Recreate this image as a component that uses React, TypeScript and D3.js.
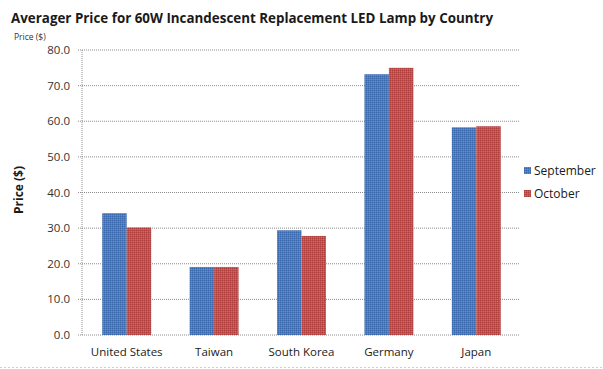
import React from "react";
import * as d3 from "d3";

const categories = ["United States", "Taiwan", "South Korea", "Germany", "Japan"];
const september = [34.2, 19.1, 29.4, 73.2, 58.3];
const october = [30.2, 19.1, 27.8, 75.0, 58.6];
const seriesNames = ["September", "October"];
const yTicks = [0, 10, 20, 30, 40, 50, 60, 70, 80];

const W = 603;
const H = 369;
const left = 82;
const right = 520;
const top = 50;
const bottom = 335;
const font = "'Open Sans', 'Noto Sans', sans-serif";

export default function App() {
  const x0 = d3.scaleBand<string>().domain(categories).range([left + 1, right]).paddingInner(0.44).paddingOuter(0.22);
  const x1 = d3.scaleBand<string>().domain(seriesNames).range([0, x0.bandwidth()]);
  const y = d3.scaleLinear().domain([0, 80]).range([bottom, top]);
  const values = [september, october];
  const fills = ["url(#pBlue)", "url(#pRed)"];
  return (
    <svg width={W} height={H} style={{ position: "absolute", left: 0, top: 0, background: "#fff" }}>
      <defs>
        <pattern id="pBlue" width="2" height="2" patternUnits="userSpaceOnUse">
          <rect width="2" height="2" fill="#4a7cc0" />
          <rect width="1" height="1" fill="#3a68ad" />
          <rect x="1" y="1" width="1" height="1" fill="#5d8fd2" />
        </pattern>
        <pattern id="pRed" width="2" height="2" patternUnits="userSpaceOnUse">
          <rect width="2" height="2" fill="#c44f4d" />
          <rect width="1" height="1" fill="#b03f3e" />
          <rect x="1" y="1" width="1" height="1" fill="#d86462" />
        </pattern>
      </defs>
      <text x={11} y={23} fontFamily={font} fontWeight="bold" fontSize={15} fill="#1a1a1a" textLength={482} lengthAdjust="spacingAndGlyphs">
        Averager Price for 60W Incandescent Replacement LED Lamp by Country
      </text>
      <text x={14} y={40} fontFamily={font} fontSize={8.5} fill="#333">Price ($)</text>
      {yTicks.map((t) => (
        <g key={t}>
          <line x1={left - 4} x2={right} y1={y(t)} y2={y(t)} stroke="#8c8c8c" strokeWidth={1} strokeDasharray="1,1" />
          <text x={70} y={y(t) + 4} textAnchor="end" fontFamily={font} fontSize={11.5} fill="#333">
            {t.toFixed(1)}
          </text>
        </g>
      ))}
      <line x1={left} x2={left} y1={top} y2={bottom} stroke="#8c8c8c" strokeDasharray="1,1" />
      <text transform={`translate(23,190) rotate(-90)`} textAnchor="middle" fontFamily={font} fontWeight="bold" fontSize={12} fill="#1a1a1a">
        Price ($)
      </text>
      {categories.map((c, i) => (
        <g key={c}>
          {seriesNames.map((s, j) => (
            <rect
              key={s}
              x={(x0(c) as number) + (x1(s) as number)}
              y={y(values[j][i])}
              width={x1.bandwidth()}
              height={bottom - y(values[j][i])}
              fill={fills[j]}
            />
          ))}
          <text x={(x0(c) as number) + x0.bandwidth() / 2} y={356} textAnchor="middle" fontFamily={font} fontSize={11.5} fill="#1a1a1a">
            {c}
          </text>
        </g>
      ))}
      {seriesNames.map((s, j) => (
        <g key={s}>
          <rect x={524} y={167 + j * 23} width={7} height={7} fill={fills[j]} />
          <text x={534} y={175 + j * 23} fontFamily={font} fontSize={12} fill="#1a1a1a">{s}</text>
        </g>
      ))}
      <line x1={0} x2={W} y1={367.5} y2={367.5} stroke="#a8dcec" strokeDasharray="2,2" />
    </svg>
  );
}
